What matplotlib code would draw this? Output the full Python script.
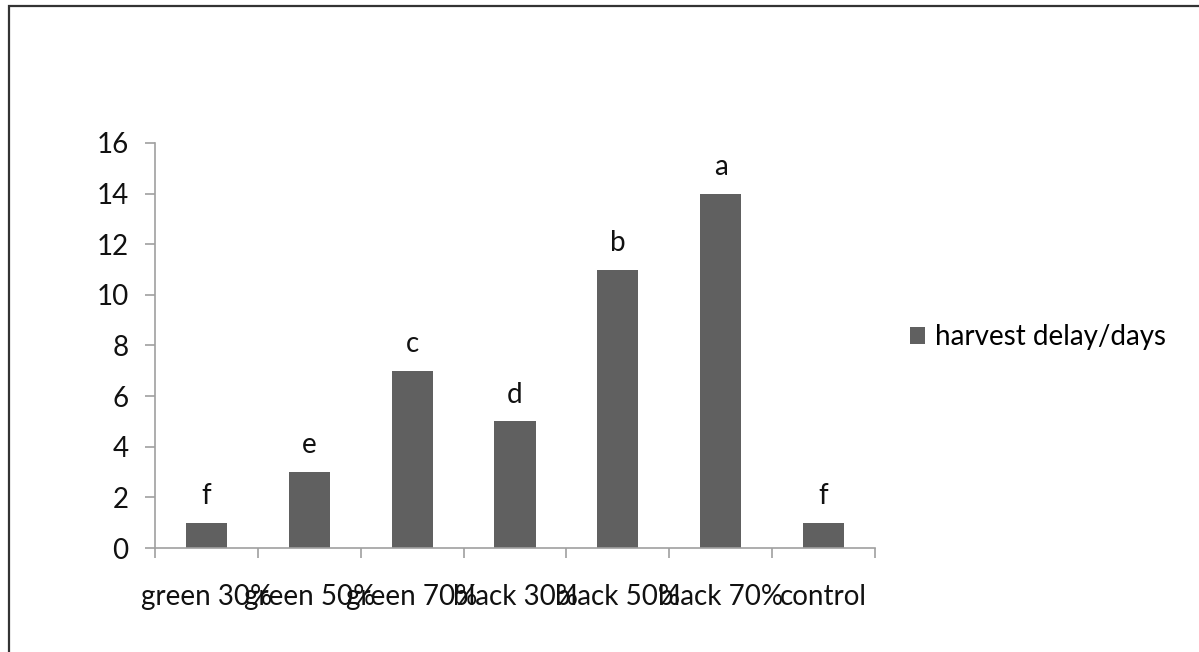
import numpy as np
import matplotlib.pyplot as plt
from matplotlib.patches import Rectangle

# данные
categories = ['green 30%', 'green 50%', 'green 70%', 'black 30%', 'black 50%', 'black 70%', 'control']
delay_days = [1, 3, 7, 5, 11, 14, 1]
letters = ['f', 'e', 'c', 'd', 'b', 'a', 'f']

plt.rcParams['font.family'] = ['Lato', 'DejaVu Sans']
fs = 20

fig = plt.figure(figsize=(11.99, 6.52), dpi=100)
ax = fig.add_axes([0.1293, 0.1595, 0.6005, 0.6212])

x = np.arange(len(categories))
bars = ax.bar(x, delay_days, width=0.4, color='#606060', label='harvest delay/days')

# буквы над столбиками
for xi, yi, lt in zip(x, delay_days, letters):
    ax.annotate(lt, (xi, yi), xytext=(0, 10), textcoords='offset points',
                ha='center', va='bottom', fontsize=fs, color='#111111')

ax.set_xlim(-0.5, len(categories) - 0.5)
ax.set_ylim(0, 16)
ax.set_yticks(np.arange(0, 17, 2))
ax.set_xticks(x)
ax.set_xticklabels(categories, fontsize=fs, color='#111111')
ax.set_xticks(np.arange(-0.5, len(categories), 1), minor=True)
ax.tick_params(axis='x', which='major', length=0, pad=26)
ax.tick_params(axis='x', which='minor', length=7, color='#a0a0a0', width=1.2)
ax.tick_params(axis='y', length=7, color='#a0a0a0', width=1.2, labelsize=fs,
               labelcolor='#111111', pad=12)

for s in ['top', 'right']:
    ax.spines[s].set_visible(False)
for s in ['left', 'bottom']:
    ax.spines[s].set_color('#a0a0a0')
    ax.spines[s].set_linewidth(1.2)

fig.legend(loc='center left', bbox_to_anchor=(0.738, 0.483), frameon=False,
           fontsize=fs, handlelength=0.55, handleheight=0.55, handletextpad=0.35)

# рамка вокруг диаграммы
fig.patches.append(Rectangle((9 / 1199, -0.1), 1.2, 1 - 6 / 652 + 0.1,
                             transform=fig.transFigure, fill=False,
                             edgecolor='#333333', linewidth=1.6))

fig.savefig('out.png', dpi=100)
